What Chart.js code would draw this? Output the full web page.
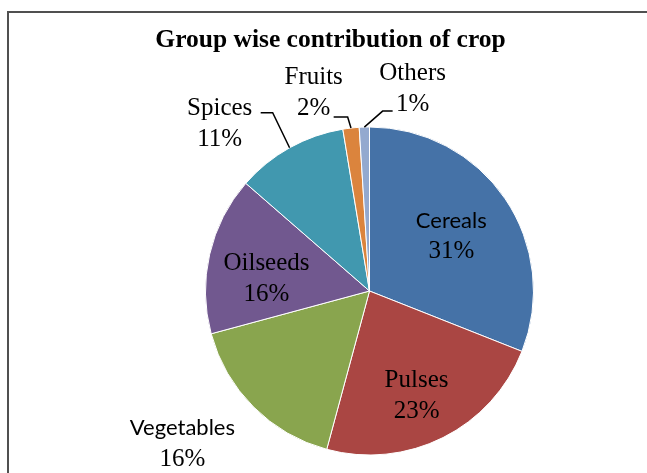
<!DOCTYPE html>
<html>
<head>
<meta charset="utf-8">
<script src="https://cdn.jsdelivr.net/npm/chart.js@4/dist/chart.umd.min.js"></script>
<style>
  html, body { margin: 0; padding: 0; background: #fff; overflow: hidden; width: 647px; height: 473px; }
  #wrap { position: relative; width: 647px; height: 473px; overflow: hidden; }
  #frame { position: absolute; left: 7px; top: 11px; width: 700px; height: 520px; border-top: 2px solid #505050; border-left: 2px solid #505050; }
  #myChart { position: absolute; left: 0; top: 0; }
</style>
</head>
<body>
<div id="wrap">
  <div id="frame"></div>
  <canvas id="myChart" width="647" height="473"></canvas>
</div>
<script>
const crops = ["Cereals", "Pulses", "Vegetables", "Oilseeds", "Spices", "Fruits", "Others"];
const shares = [31, 23.2, 16.6, 15.6, 11, 1.6, 1];
const shareLabels = ["31%", "23%", "16%", "16%", "11%", "2%", "1%"];
const sliceColors = ["#4572A7", "#AA4643", "#89A54E", "#71588F", "#4198AF", "#DB843D", "#93A9CF"];
const chartTitle = "Group wise contribution of crop";

// where each label sits: k = fraction of radius, da = degrees off the slice middle
const labelPlace = [
  { k: 0.603, da: 0, sans: true },
  { k: 0.696, da: 2.3 },
  { k: 1.47, da: 5.9, sans: true },
  { k: 0.633, da: -5.8 },
  { k: 1.369, da: -12.7, leader: [41, -11, 12] },
  { k: 1.26, da: -9.2, leader: [20, 25, 14] },
  { k: 1.265, da: 13.8, leader: [-20, 23, -10] }
];

const serifFont = "25px 'Liberation Serif', 'Times New Roman', serif";
const sansFont = "22px Lato, 'Open Sans', sans-serif";
const titleFont = "bold 25.5px 'Liberation Serif', 'Times New Roman', serif";

// title is centred on the frame, not on the pie, so draw it here
const frameTitle = {
  id: "frameTitle",
  afterDraw(chart) {
    const ctx = chart.ctx;
    ctx.save();
    ctx.font = titleFont;
    ctx.fillStyle = "#000";
    ctx.textAlign = "center";
    ctx.textBaseline = "middle";
    ctx.fillText(chartTitle, 330.5, 40);
    ctx.restore();
  }
};

const pieLabels = {
  id: "pieLabels",
  afterDatasetsDraw(chart) {
    const ctx = chart.ctx;
    const meta = chart.getDatasetMeta(0);
    ctx.save();
    meta.data.forEach((arc, i) => {
      const p = labelPlace[i];
      const { x, y, startAngle, endAngle, outerRadius } = arc.getProps(["x", "y", "startAngle", "endAngle", "outerRadius"], true);
      const mid = (startAngle + endAngle) / 2;
      const a = mid + p.da * Math.PI / 180;
      const lx = x + Math.cos(a) * outerRadius * p.k;
      const ly = y + Math.sin(a) * outerRadius * p.k;

      if (p.leader) {
        const hx = lx + p.leader[0], hy = ly + p.leader[1];
        const ex = hx + p.leader[2];
        ctx.beginPath();
        ctx.moveTo(hx, hy);
        ctx.lineTo(ex, hy);
        ctx.lineTo(x + Math.cos(mid) * outerRadius, y + Math.sin(mid) * outerRadius);
        ctx.strokeStyle = "#000";
        ctx.lineWidth = 1.5;
        ctx.stroke();
      }

      ctx.fillStyle = "#000";
      ctx.textAlign = "center";
      ctx.textBaseline = "middle";
      ctx.font = p.sans ? sansFont : serifFont;
      ctx.fillText(crops[i], lx, ly - 15);
      ctx.font = serifFont;
      ctx.fillText(shareLabels[i], lx, ly + 16);
    });
    ctx.restore();
  }
};

const ctx = document.getElementById("myChart").getContext("2d");
const myChart = new Chart(ctx, {
  type: "pie",
  data: {
    labels: crops,
    datasets: [{
      data: shares,
      backgroundColor: sliceColors,
      borderColor: "#ffffff",
      borderWidth: 1
    }]
  },
  options: {
    responsive: false,
    animation: false,
    layout: { padding: { left: 205, right: 113, top: 126.5, bottom: 17.5 } },
    plugins: {
      legend: { display: false },
      tooltip: { enabled: false },
      title: { display: false }
    }
  },
  plugins: [pieLabels, frameTitle]
});
</script>
</body>
</html>
